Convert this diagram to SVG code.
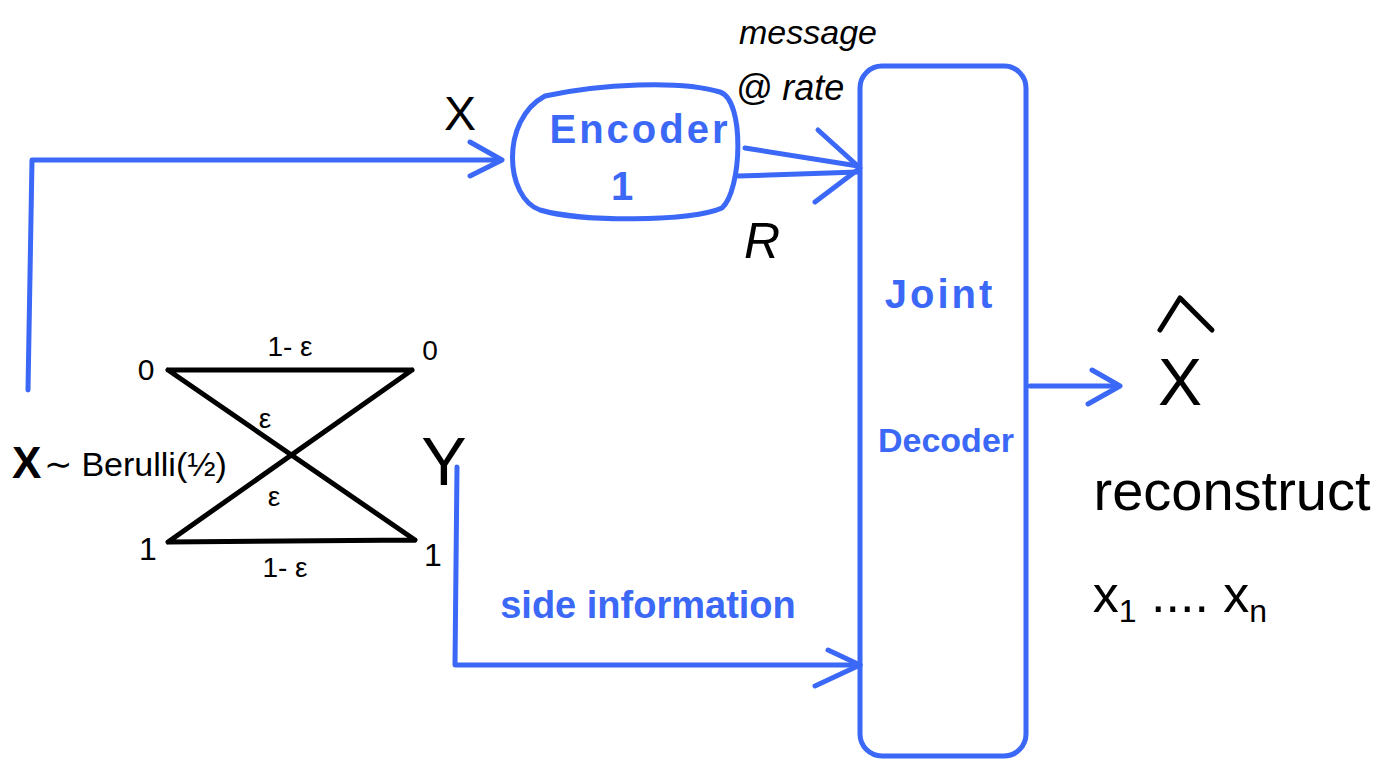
<svg xmlns="http://www.w3.org/2000/svg" width="1394" height="763" viewBox="0 0 1394 763">
<style>
.b{fill:none;stroke:#3b68f6;stroke-width:5;stroke-linecap:round;stroke-linejoin:round}
.k{fill:none;stroke:#000;stroke-width:5;stroke-linecap:round;stroke-linejoin:round}
.bt{fill:#3b68f6;font-family:"Liberation Sans",sans-serif;font-weight:bold}
.kt{fill:#000;font-family:"Liberation Sans",sans-serif}
.ki{fill:#000;font-family:"Liberation Sans",sans-serif;font-style:italic}
</style>
<rect width="1394" height="763" fill="#fff"/>
<g id="connectors">
<path class="b" d="M28,390 L32,160 L500,160"/>
<path class="b" d="M470,142 L502,160 L470,176"/>
<path class="b" d="M745,148 L858,166 M738,176 L858,172"/>
<path class="b" d="M818,130 L860,168 L815,202"/>
<path class="b" d="M1030,386 L1118,386"/>
<path class="b" d="M1092,370 L1120,386 L1088,404"/>
<path class="b" d="M457,467 L455,665 L860,665"/>
<path class="b" d="M828,650 L860,665 L815,686"/>
</g>
<g id="encoder1">
<path class="b" d="M545,96 C600,84 680,80 720,92 C745,100 742,190 722,208 C690,222 580,222 540,210 C505,198 500,120 545,96 Z"/>
<text class="bt" x="640" y="143" font-size="40" text-anchor="middle" letter-spacing="3">Encoder</text>
<text class="bt" x="622" y="200" font-size="40" text-anchor="middle">1</text>
</g>
<g id="joint_decoder">
<rect class="b" x="860" y="66" width="166" height="690" rx="22"/>
<text class="bt" x="940" y="308" font-size="40" text-anchor="middle" letter-spacing="3">Joint</text>
<text class="bt" x="946" y="452" font-size="34" text-anchor="middle">Decoder</text>
</g>
<g id="bsc">
<path class="k" d="M168,370 L412,370 M168,542 L415,540 M168,370 L415,540 M168,542 L412,370"/>
<text class="kt" x="146" y="380" font-size="30" text-anchor="middle">0</text>
<text class="kt" x="430" y="360" font-size="28" text-anchor="middle">0</text>
<text class="kt" x="148" y="560" font-size="32" text-anchor="middle">1</text>
<text class="kt" x="433" y="566" font-size="32" text-anchor="middle">1</text>
<text class="kt" x="290" y="356" font-size="28" text-anchor="middle">1- ε</text>
<text class="kt" x="285" y="577" font-size="28" text-anchor="middle">1- ε</text>
<text class="kt" x="265" y="428" font-size="28" text-anchor="middle">ε</text>
<text class="kt" x="274" y="506" font-size="28" text-anchor="middle">ε</text>
<text class="kt" x="444" y="485" font-size="68" text-anchor="middle">Y</text>
<text class="kt" x="12" y="478" font-size="44" font-weight="bold">X</text>
<text class="kt" x="44" y="476" font-size="34">∼ Berulli(½)</text>
</g>
<g id="labels">
<text class="kt" x="460" y="130" font-size="48" text-anchor="middle">X</text>
<text class="ki" x="808" y="44" font-size="34" text-anchor="middle">message</text>
<text class="ki" x="790" y="100" font-size="36" text-anchor="middle">@ rate</text>
<text class="ki" x="762" y="258" font-size="50" text-anchor="middle">R</text>
<text class="bt" x="648" y="618" font-size="38" text-anchor="middle">side information</text>
<path class="k" d="M1160,330 L1180,298 L1212,330"/>
<text class="kt" x="1180" y="405" font-size="66" text-anchor="middle">X</text>
<text class="kt" x="1232" y="510" font-size="56" text-anchor="middle">reconstruct</text>
<text class="kt" x="1180" y="612" font-size="52" text-anchor="middle">x<tspan font-size="32" dy="10">1</tspan><tspan dy="-10"> .... x</tspan><tspan font-size="32" dy="10">n</tspan></text>
</g>
</svg>
